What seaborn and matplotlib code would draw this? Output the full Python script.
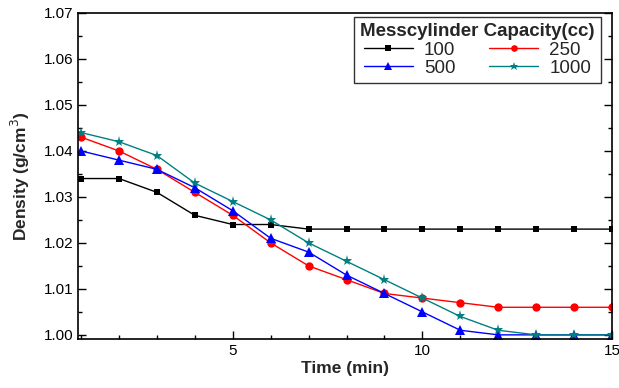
import matplotlib
matplotlib.use("Agg")
import matplotlib.pyplot as plt
import seaborn as sns
import pandas as pd
from matplotlib.ticker import MultipleLocator

time = list(range(1, 16))
d100 = [1.034, 1.034, 1.031, 1.026, 1.024, 1.024, 1.023, 1.023, 1.023, 1.023, 1.023, 1.023, 1.023, 1.023, 1.023]
d250 = [1.043, 1.040, 1.036, 1.031, 1.026, 1.020, 1.015, 1.012, 1.009, 1.008, 1.007, 1.006, 1.006, 1.006, 1.006]
d500 = [1.040, 1.038, 1.036, 1.032, 1.027, 1.021, 1.018, 1.013, 1.009, 1.005, 1.001, 1.000, 1.000, 1.000, 1.000]
d1000 = [1.044, 1.042, 1.039, 1.033, 1.029, 1.025, 1.020, 1.016, 1.012, 1.008, 1.004, 1.001, 1.000, 1.000, 1.000]
labels = ["100", "250", "500", "1000"]

rows = []
for lab, vals in zip(labels, [d100, d250, d500, d1000]):
    for t, v in zip(time, vals):
        rows.append({"Time": t, "Density": v, "Capacity": lab})
df = pd.DataFrame(rows)

sns.set_style("ticks")
plt.rcParams["font.family"] = ["Liberation Sans", "DejaVu Sans"]

fig = plt.figure(figsize=(6.19, 3.88), dpi=100)
ax = fig.add_axes([78/619, 1-339/388, (612-78)/619, (339-13)/388])

palette = {"100": "black", "250": "red", "500": "blue", "1000": "#008080"}
markers = {"100": "s", "250": "o", "500": "^", "1000": "*"}
sizes = {"100": 5, "250": 6, "500": 7, "1000": 8}

for lab in labels:
    sub = df[df["Capacity"] == lab]
    sns.lineplot(data=sub, x="Time", y="Density", ax=ax, color=palette[lab],
                 marker=markers[lab], markersize=sizes[lab], markeredgewidth=0,
                 linewidth=1.0, label=lab)

ax.set_xlim(0.92, 15.0)
ax.set_ylim(0.9991, 1.07)
ax.xaxis.set_major_locator(MultipleLocator(5))
ax.xaxis.set_minor_locator(MultipleLocator(1))
ax.yaxis.set_major_locator(MultipleLocator(0.01))
ax.yaxis.set_minor_locator(MultipleLocator(0.005))
ax.yaxis.set_major_formatter(matplotlib.ticker.FormatStrFormatter("%.2f"))
ax.tick_params(which="both", direction="in", right=True, top=False, labelsize=11, colors="black")
ax.tick_params(which="major", length=6, width=1)
ax.tick_params(which="minor", length=3, width=1)
for s in ax.spines.values():
    s.set_linewidth(1.2)
    s.set_color("black")

ax.set_xlabel("Time (min)", fontsize=12.5, fontweight="bold", labelpad=2)
ax.set_ylabel("Density (g/cm$^3$)", fontsize=12.5, fontweight="bold", labelpad=8)

handles, labs = ax.get_legend_handles_labels()
order = [0, 2, 1, 3]
leg = ax.legend([handles[i] for i in order], [labs[i] for i in order],
                title="Messcylinder Capacity(cc)", ncol=2, loc="upper right",
                bbox_to_anchor=(0.98, 0.988), borderaxespad=0,
                fontsize=13.5, title_fontsize=13.5, markerscale=0.8,
                frameon=True, fancybox=False, edgecolor="black",
                handlelength=2.6, columnspacing=1.8, handletextpad=0.6,
                borderpad=0.35, labelspacing=0.05)
leg.get_title().set_fontweight("bold")
leg.get_frame().set_linewidth(1.0)

fig.savefig("out.png", dpi=100)
